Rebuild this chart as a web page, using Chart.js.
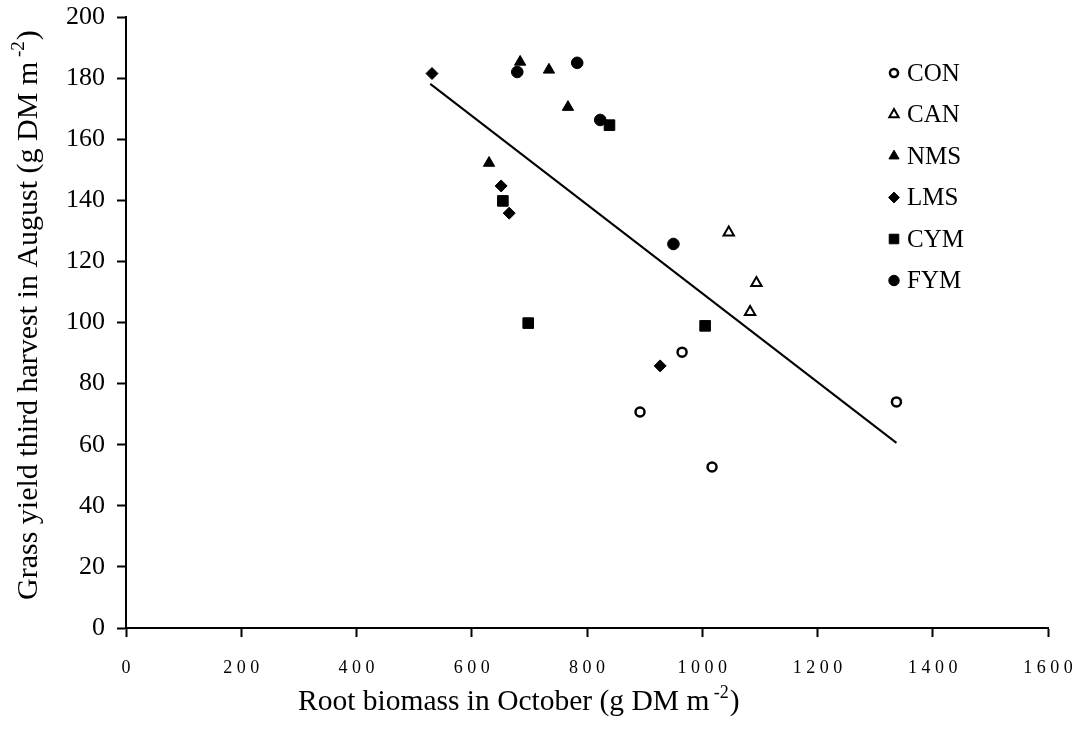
<!DOCTYPE html>
<html>
<head>
<meta charset="utf-8">
<script src="https://cdn.jsdelivr.net/npm/chart.js@4/dist/chart.umd.min.js"></script>
<style>
  html, body { margin: 0; padding: 0; background: #fff; }
  #wrap { width: 1088px; height: 742px; position: relative; }
</style>
</head>
<body>
<div id="wrap"><canvas id="rootChart"></canvas></div>
<script>
// treatments (legend order)
const treatments = ['CON', 'CAN', 'NMS', 'LMS', 'CYM', 'FYM'];

// root biomass in October (x) and grass yield third harvest (y), per treatment
const conX = [892, 965, 1017, 1337];
const conY = [70.7, 90.3, 52.7, 74.0];
const canX = [1046, 1083, 1094];
const canY = [129.5, 103.4, 112.9];
const nmsX = [630, 684, 734, 767];
const nmsY = [152.2, 185.3, 182.7, 170.5];
const lmsX = [531, 651, 665, 927];
const lmsY = [181.5, 144.7, 135.8, 85.8];
const cymX = [654, 698, 839, 1005];
const cymY = [139.8, 99.8, 164.6, 98.9];
const fymX = [679, 783, 823, 950];
const fymY = [182.0, 185.0, 166.3, 125.7];

// fitted regression line end points
const trendX = [528, 1337];
const trendY = [178.1, 60.6];

// axis ticks
const xTicks = [0, 200, 400, 600, 800, 1000, 1200, 1400, 1600];
const yTicks = [0, 20, 40, 60, 80, 100, 120, 140, 160, 180, 200];

// axis titles: [text before superscript, superscript, text after]
const xTitle = ['Root biomass in October (g DM m', ' -2', ')'];
const yTitle = ['Grass yield third harvest in August (g DM m', ' -2', ')'];

const pts = (xs, ys) => xs.map((x, i) => ({ x: x, y: ys[i] }));
const serif = '"Liberation Serif", "Times New Roman", serif';

const markerStyles = {
    CON: { pointStyle: 'circle', radius: 4.5, fill: '#fff', border: 2.5 },
    CAN: { pointStyle: 'triangle', radius: 6, fill: '#fff', border: 2 },
    NMS: { pointStyle: 'triangle', radius: 6.5, fill: '#000', border: 1 },
    LMS: { pointStyle: 'rectRot', radius: 6, fill: '#000', border: 1 },
    CYM: { pointStyle: 'rect', radius: 7.5, fill: '#000', border: 1 },
    FYM: { pointStyle: 'circle', radius: 5.8, fill: '#000', border: 1 }
};

const seriesData = {
    CON: pts(conX, conY), CAN: pts(canX, canY), NMS: pts(nmsX, nmsY),
    LMS: pts(lmsX, lmsY), CYM: pts(cymX, cymY), FYM: pts(fymX, fymY)
};

const datasets = treatments.map(name => {
    const m = markerStyles[name];
    return {
        type: 'scatter',
        label: name,
        data: seriesData[name],
        pointStyle: m.pointStyle,
        pointRadius: m.radius,
        pointHoverRadius: m.radius,
        pointBackgroundColor: m.fill,
        pointBorderColor: '#000',
        pointBorderWidth: m.border
    };
});

datasets.push({
    type: 'line',
    label: 'trend',
    data: pts(trendX, trendY),
    borderColor: '#000',
    borderWidth: 2,
    pointRadius: 0,
    fill: false
});

// write a title with a raised, smaller exponent, starting at (0,0) of the current transform
function superTitle(ctx, parts, size) {
    let x = 0;
    ctx.font = size + 'px ' + serif;
    ctx.fillText(parts[0], x, 0);
    x += ctx.measureText(parts[0]).width;
    ctx.font = Math.round(size * 0.62) + 'px ' + serif;
    ctx.fillText(parts[1], x, -size * 0.42);
    x += ctx.measureText(parts[1]).width + 1;
    ctx.font = size + 'px ' + serif;
    ctx.fillText(parts[2], x, 0);
}

// legend inside the plot (top right) and the two axis titles
const extras = {
    id: 'extras',
    afterDraw(chart) {
        const ctx = chart.ctx;
        const x0 = 894, y0 = 73, step = 41.5;
        ctx.save();
        ctx.font = '25px ' + serif;
        ctx.textBaseline = 'middle';
        treatments.forEach((name, i) => {
            const m = markerStyles[name];
            const y = y0 + i * step;
            ctx.fillStyle = m.fill;
            ctx.strokeStyle = '#000';
            ctx.lineWidth = m.border;
            Chart.helpers.drawPoint(ctx, { pointStyle: m.pointStyle, radius: m.radius * 0.9, rotation: 0, borderWidth: m.border }, x0, y);
            ctx.fillStyle = '#000';
            ctx.fillText(name, x0 + 13, y + 1);
        });
        ctx.restore();

        ctx.save();
        ctx.fillStyle = '#000';
        ctx.textBaseline = 'alphabetic';
        ctx.textAlign = 'left';
        ctx.translate(298, 710);
        superTitle(ctx, xTitle, 29.5);
        ctx.restore();

        ctx.save();
        ctx.fillStyle = '#000';
        ctx.textBaseline = 'alphabetic';
        ctx.textAlign = 'left';
        ctx.translate(37, 600);
        ctx.rotate(-Math.PI / 2);
        superTitle(ctx, yTitle, 30);
        ctx.restore();
    }
};

new Chart(document.getElementById('rootChart'), {
    data: { datasets: datasets },
    options: {
        responsive: true,
        maintainAspectRatio: false,
        animation: false,
        layout: { padding: { top: 17, right: 40, left: 0, bottom: 0 } },
        plugins: {
            legend: { display: false },
            tooltip: { enabled: false }
        },
        scales: {
            x: {
                type: 'linear',
                min: 0, max: 1600,
                afterBuildTicks: s => { s.ticks = xTicks.map(v => ({ value: v })); },
                afterFit: s => { s.height = 114; s.paddingLeft = 0; s.paddingRight = 0; },
                border: { color: '#000', width: 2 },
                grid: { drawOnChartArea: false, color: '#000', tickLength: 9, tickWidth: 2 },
                ticks: {
                    color: '#000',
                    font: { family: serif, size: 18 },
                    padding: 20,
                    maxRotation: 0,
                    callback: v => String(v).split('').join(' ')
                }
            },
            y: {
                type: 'linear',
                min: 0, max: 200,
                afterBuildTicks: s => { s.ticks = yTicks.map(v => ({ value: v })); },
                afterFit: s => { s.width = 126; s.paddingTop = 0; s.paddingBottom = 0; },
                border: { color: '#000', width: 2 },
                grid: { drawOnChartArea: false, color: '#000', tickLength: 9, tickWidth: 2 },
                ticks: {
                    color: '#000',
                    font: { family: serif, size: 26 },
                    padding: 12
                }
            }
        }
    },
    plugins: [extras]
});
</script>
</body>
</html>
